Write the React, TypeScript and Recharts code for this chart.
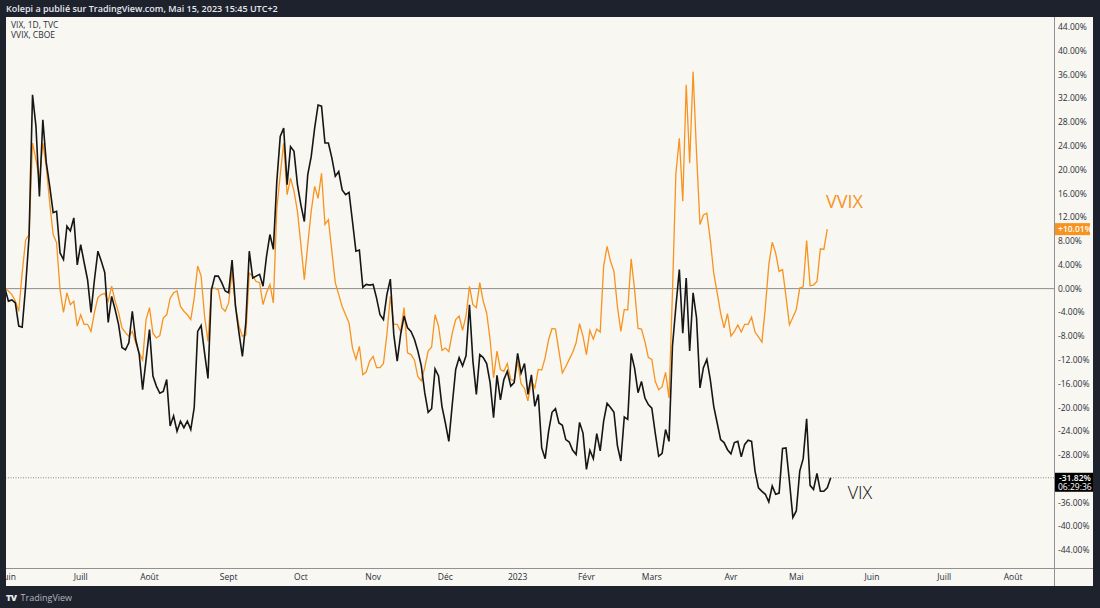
import React from "react";
import { LineChart, Line, XAxis, YAxis, ReferenceLine, ReferenceDot } from "recharts";

// % change since the first bar (31 May 2022), one value per trading day
const vix = [
  0, -2.1, -1.9, -2.4, -6.3, -6.5, 0.4, 8.8, 32.6, 27.3, 15.5, 28.4, 21.2, 17.2, 12.8, 13, 6, 4.9, 10.5, 9.7,
  11.9, 4, 7.4, 4.4, 1.5, -4, 1.5, 6.3, 4.6, 2.7, -5.7, -1.3, -3.5, -6, -9.9, -10.3, -9.1, -3.8, -8.6, -11,
  -17, -12, -6.9, -14.7, -16.4, -17.6, -17.3, -15.3, -23.1, -21.4, -24, -22.3, -23.4, -22.3, -23.7, -20, -7.2, -6.2, -10.8, -15.1,
  -0.2, 2.1, 2.1, 1, -0.4, -0.7, 4.8, -3, -7.4, -11.4, -5.7, 6.3, 1.8, 2.1, 2.4, 0.4, 5.4, 9.1, 6.6, 18,
  25.6, 27, 17.5, 23.9, 23.1, 17.5, 14.1, 11.3, 19.2, 22.2, 27, 30.9, 30.7, 24.5, 24.5, 22, 18.9, 19.7, 16.6, 15.8,
  16.2, 11.3, 6.3, 6.5, 0.2, 0.7, 0.6, 0.7, -1.6, -4.4, -5.2, -1, 1.6, -7.7, -12.2, -7.7, -4.6, -6.6, -7.2, -8.5,
  -10.5, -13, -17.5, -20.8, -20.2, -13.5, -14.7, -19.8, -22.6, -25.7, -19.5, -13.6, -11.6, -13, -11.3, -2.7, -12.2, -17.8, -11.1, -11.6,
  -12.6, -15.8, -21.7, -14.6, -18.7, -15.3, -13.9, -16.4, -15.8, -10.9, -14.2, -12.6, -17.8, -14.5, -19.8, -17.8, -26.8, -28.6, -24, -20.8,
  -20.2, -22.6, -23, -25.4, -25.8, -27.2, -27.9, -22.5, -24.3, -30.4, -27.2, -28.6, -24.4, -27.3, -22.3, -19.3, -20, -20.8, -26.4, -29,
  -21.6, -22, -10.9, -13.4, -17.5, -15.6, -18.4, -19.5, -20.1, -24.3, -28.2, -27.7, -23.7, -25.7, -9.7, -3, 3.2, -7.5, 1.8, -10.5,
  -0.7, -4.9, -16.7, -13.3, -11.9, -15.3, -19.8, -22.6, -25.4, -25.9, -27.1, -27.8, -25.9, -25.7, -28.3, -26.2, -25.5, -25.7, -30.7, -33.5,
  -34.1, -34.6, -35.9, -33.2, -34.6, -34.4, -26.9, -26.8, -32.4, -38.5, -37.4, -30.7, -28.6, -21.9, -33.1, -33.8, -31.1, -34.1, -34.1, -33.5,
  -31.82,
];

const vvix = [
  0, -0.4, -1, -2.1, -3.8, 2.7, 8.2, 9.1, 24.5, 21.7, 18.3, 24.5, 20.5, 14.4, 9.1, 7.7, -0.2, -4, -0.7, -2.7,
  -2.1, -6.3, -4.4, -6, -6, -7.2, -4, -1.5, -1, -0.8, -2.1, 0.4, -2.1, -4, -6.6, -7.4, -8, -7.2, -9.1, -10.8,
  -12, -5.2, -3.2, -7.5, -8.3, -7.9, -4.9, -4.4, -1.6, -0.7, -0.4, -3, -3.8, -4.4, -5.2, -1.6, 3.8, 2.1, -4.6, -8.9,
  0.1, 0.1, -0.2, -3.2, -3.8, -2.4, 2.9, -3, -6.3, -8, -7.8, 2.6, 2.1, 1.2, 1, -2.7, -0.7, 0.7, -2.4, 13.4,
  19.2, 24.5, 15.8, 18.6, 16.4, 13, 7.4, 1.5, 7.4, 13, 17.2, 15.2, 19.4, 10.8, 11.6, 6.3, 1, -1, -3, -4.4,
  -5.8, -10, -11.9, -9.7, -14.5, -14, -12.2, -11.4, -13.3, -13.3, -12.6, -7.7, -1.3, -6, -6, -7.2, -3.2, -10.8, -11.1, -12,
  -14.8, -15.5, -13.3, -10.5, -9.8, -4.4, -6.3, -10.4, -10, -10.6, -7.5, -5.2, -4.6, -7, -4.6, 0.4, -2.7, -3.2, 1, -2.1,
  -4.1, -8.6, -15, -10.5, -13.6, -13.9, -12.6, -15.3, -15.5, -12.2, -16, -16.8, -18.9, -15.5, -16.7, -13.6, -13.7, -11.6, -8.6, -6.7,
  -6.8, -10.5, -14.2, -13.1, -11.9, -10.7, -9.1, -5.9, -8, -11.1, -7, -8.5, -6.8, -7.3, 3.8, 7.1, 4.6, 2.9, -3, -7.2,
  -3.5, -3.6, 5, -0.2, -6.7, -6.8, -8.9, -11.6, -11.9, -15.6, -17, -16.5, -14.1, -18.4, -0.7, 19.4, 25.3, 14.7, 34.3, 21.1,
  36.5, 22.8, 10.8, 12.4, 12.7, 8.2, 2.6, -0.7, -4.1, -6.6, -4.2, -8, -7.2, -6.1, -7.3, -6, -6, -4.8, -7.3, -8.1,
  -9, -3.2, 4, 7.8, 6, 2.9, 3.2, -1.3, -6.1, -4.8, -3.5, 0.1, 0.3, 8.1, 0.5, 0.6, 1.2, 6.7, 6.6, 10.01,
];

const monthLabels = ["Juin", "Juill", "Août", "Sept", "Oct", "Nov", "Déc", "2023", "Févr", "Mars", "Avr", "Mai", "Juin", "Juill", "Août"];
const monthStarts = [1, 22, 42, 65, 86, 107, 128, 149, 169, 188, 211, 230, 252, 273, 293];
const priceTicks = [44, 40, 36, 32, 28, 24, 20, 16, 12, 8, 4, 0, -4, -8, -12, -16, -20, -24, -28, -36, -40, -44];

const vixLast = -31.82;
const vvixLast = 10.01;

const data = vix.map((v, i) => ({ i, vix: v, vvix: vvix[i] }));

const DARK = "#1e222d";
const PANE = "#f8f7f2";
const ORANGE = "#f7931e";
const BLACK = "#161616";
const FONT = "'Open Sans', 'Noto Sans', sans-serif";

function VvixTag(props: any) {
  const vb = props.viewBox;
  const x = vb.x + vb.width + 1;
  return (
    <g>
      <rect x={x} y={vb.y - 6} width={35} height={12} fill={ORANGE} />
      <text x={x + 3} y={vb.y + 3} fontSize={8.5} fill="#fff" fontFamily={FONT} fontWeight={600}>
        +{vvixLast.toFixed(2)}%
      </text>
    </g>
  );
}

function VixTag(props: any) {
  const vb = props.viewBox;
  const x = vb.x + vb.width + 1;
  return (
    <g>
      <rect x={x} y={vb.y - 5} width={38} height={19} fill="#000" />
      <text x={x + 4} y={vb.y + 3} fontSize={8.5} fill="#fff" fontFamily={FONT} fontWeight={600}>
        {vixLast.toFixed(2)}%
      </text>
      <text x={x + 3} y={vb.y + 12} fontSize={8.5} fill="#fff" fontFamily={FONT}>
        06:29:36
      </text>
    </g>
  );
}

export default function App() {
  return (
    <div style={{ position: "absolute", left: 0, top: 0, width: 1100, height: 608, background: DARK, overflow: "hidden", fontFamily: FONT }}>
      <div style={{ position: "absolute", left: 6, top: 0, height: 17, lineHeight: "17px", fontSize: 9, color: "#e6e8ee", fontWeight: 600 }}>
        Kolepi a publié sur TradingView.com, Mai 15, 2023 15:45 UTC+2
      </div>

      <div style={{ position: "absolute", left: 5, top: 17, width: 1088, height: 569, background: PANE }}>
        <LineChart width={1088} height={569} data={data} margin={{ top: 0, right: 0, bottom: 0, left: 0 }}>
          <XAxis
            dataKey="i"
            type="number"
            domain={[0, 304.9]}
            ticks={monthStarts}
            tickFormatter={(v: number) => monthLabels[monthStarts.indexOf(v)]}
            height={18}
            axisLine={false}
            tickLine={false}
            tickSize={0}
            tickMargin={6}
            interval={0}
            tick={{ fontSize: 8.5, fill: "#2a2e39", fontFamily: FONT }}
          />
          <YAxis
            orientation="right"
            width={39}
            domain={[-47, 45.7]}
            ticks={priceTicks}
            interval={0}
            tickFormatter={(v: number) => `${v.toFixed(2)}%`}
            axisLine={false}
            tickLine={false}
            tickSize={0}
            tickMargin={4}
            tick={{ fontSize: 8.5, fill: "#2a2e39", fontFamily: FONT }}
          />
          <ReferenceLine y={0} stroke="#8c8c8c" strokeWidth={1} />
          <ReferenceLine y={vixLast} stroke="#888" strokeDasharray="1 1.5" strokeWidth={1} label={<VixTag />} />
          <ReferenceLine y={vvixLast} stroke="none" label={<VvixTag />} />
          <Line type="linear" dataKey="vvix" stroke={ORANGE} strokeWidth={1.3} dot={false} isAnimationActive={false} />
          <Line type="linear" dataKey="vix" stroke={BLACK} strokeWidth={1.6} dot={false} isAnimationActive={false} />
          <ReferenceDot x={244} y={14.7} r={0} fill="none" stroke="none"
            label={{ value: "VVIX", position: "center", fill: ORANGE, fontSize: 18, fontFamily: FONT, fontWeight: 400 }} />
          <ReferenceDot x={248.5} y={-34.3} r={0} fill="none" stroke="none"
            label={{ value: "VIX", position: "center", fill: "#111", fontSize: 18, fontFamily: FONT, fontWeight: 300 }} />
        </LineChart>
      </div>

      {/* pane borders */}
      <div style={{ position: "absolute", left: 0, top: 17, width: 6, height: 569, background: DARK }} />
      <div style={{ position: "absolute", left: 6, top: 568, width: 1087, height: 1, background: "#8f9197" }} />
      <div style={{ position: "absolute", left: 1054, top: 17, width: 1, height: 569, background: "#8f9197" }} />

      <div style={{ position: "absolute", left: 11, top: 20, fontSize: 8.5, lineHeight: "10px", color: "#2a2e39" }}>
        <div>VIX, 1D, TVC</div>
        <div>VVIX, CBOE</div>
      </div>

      <div style={{ position: "absolute", left: 6, top: 591, height: 14, lineHeight: "14px", fontSize: 9, color: "#b2b5be", display: "flex", alignItems: "center", gap: 4 }}>
        <span style={{ fontWeight: 800, color: "#e6e8ee", fontSize: 9, letterSpacing: -0.5 }}>TV</span>
        <span>TradingView</span>
      </div>
    </div>
  );
}
